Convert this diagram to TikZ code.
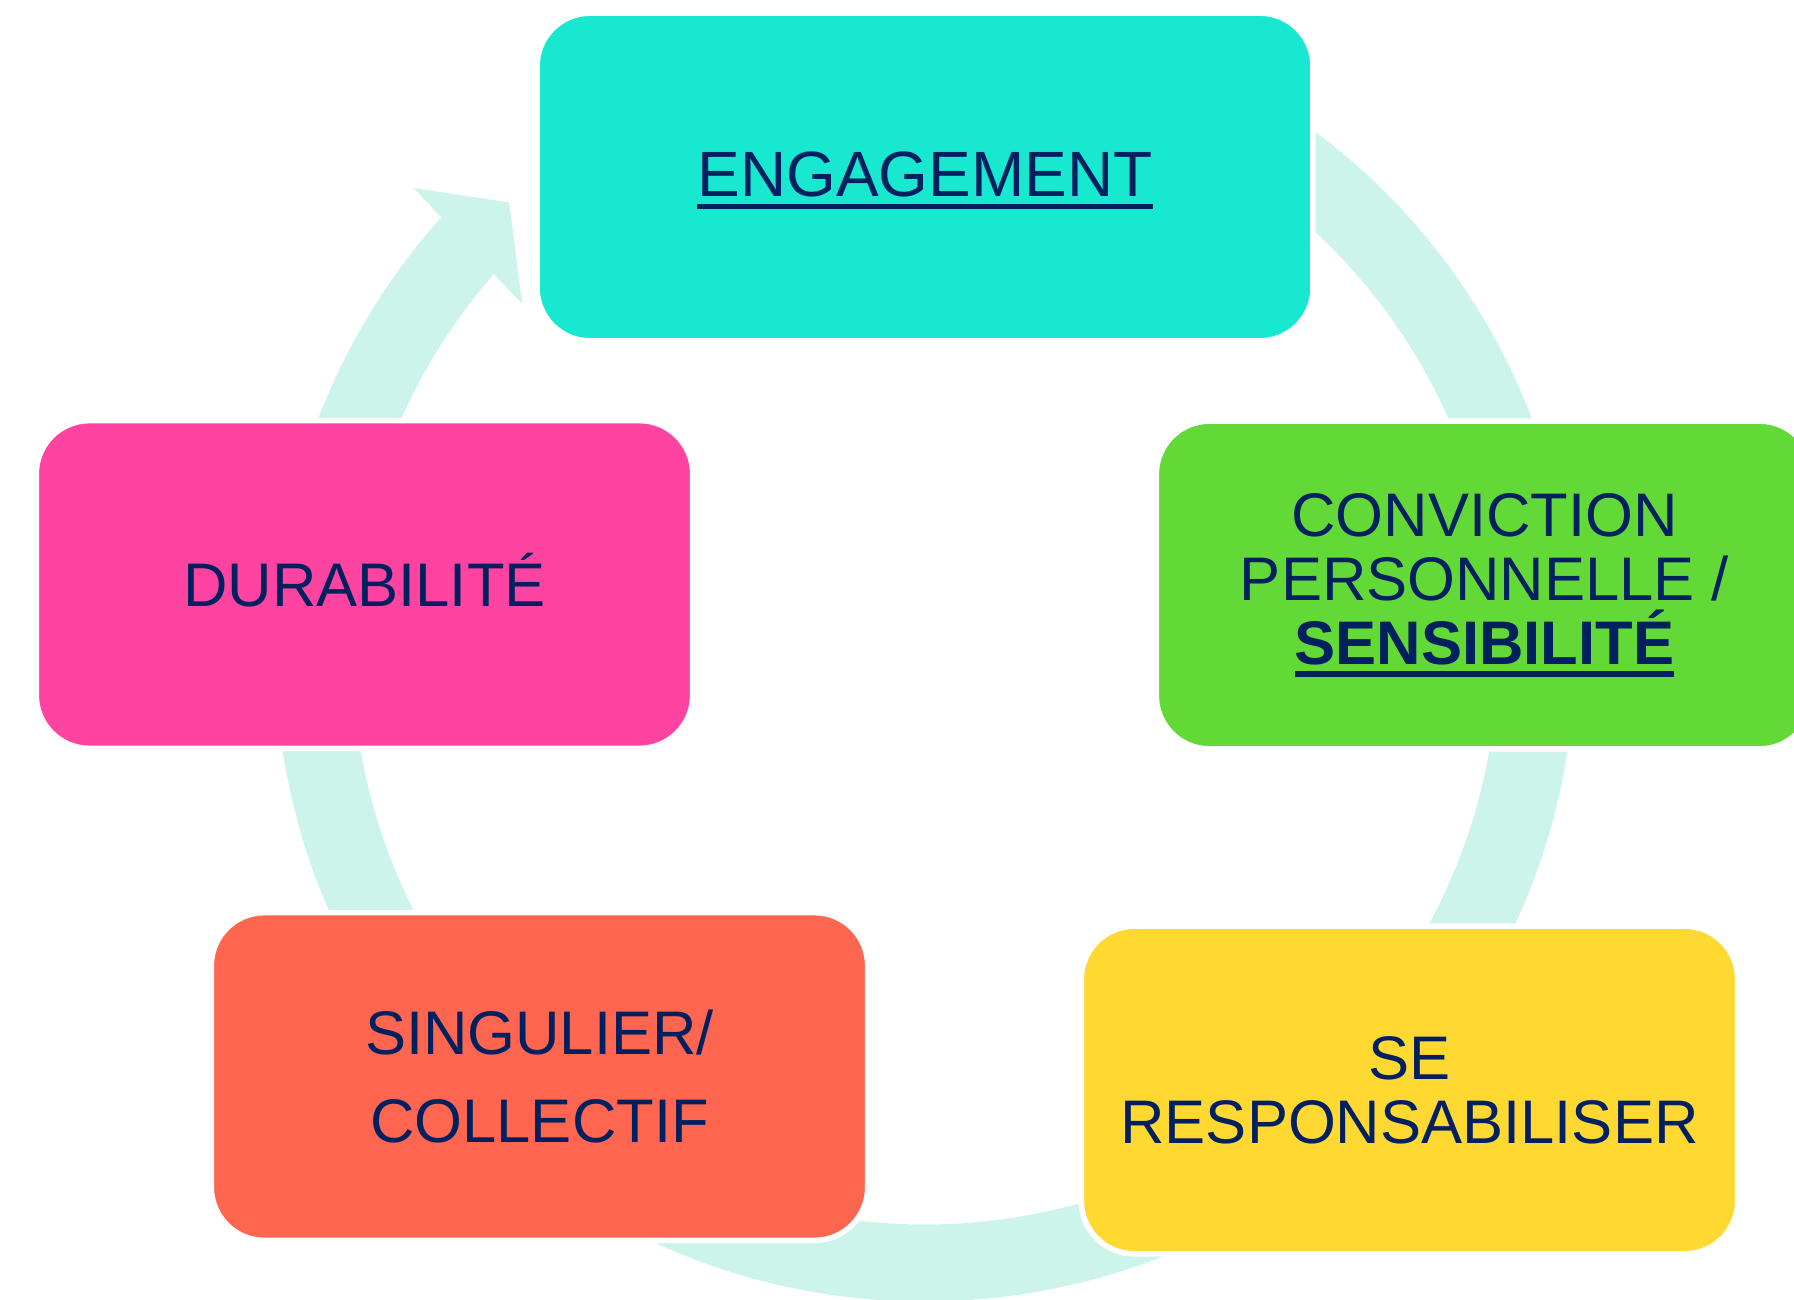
\documentclass[tikz,border=0pt]{standalone}
\usepackage{fontspec}
\setmainfont{Liberation Sans}
\usepackage{tikz}
\usetikzlibrary{calc}

\definecolor{ringmint}{HTML}{CCF4EB}
\definecolor{engteal}{HTML}{18E8D0}
\definecolor{convgreen}{HTML}{62D937}
\definecolor{respyellow}{HTML}{FFD832}
\definecolor{singred}{HTML}{FF6650}
\definecolor{durpink}{HTML}{FF43A0}
\definecolor{navy}{HTML}{002060}

\newcommand{\ulword}[1]{\setbox0\hbox{#1}\rlap{\vrule width\wd0 height -2pt depth 3.5pt}\box0}

\begin{document}
\begin{tikzpicture}[x=0.01cm,y=0.01cm,
  stage/.style={rectangle, rounded corners=0.53cm, draw=white, line width=0.055cm,
    minimum width=6.56cm, minimum height=3.275cm, inner sep=0pt, align=center,
    text=navy, font=\fontsize{17.5}{18.2}\selectfont}]

\path[use as bounding box] (0,0) rectangle (1794,1299);
\clip (0,0) rectangle (1794,1299);

\coordinate (hub) at (925,647.5);

\fill[ringmint] ($(hub)+(57:650)$) arc[start angle=57, end angle=-221.9, radius=650]
  -- ($(hub)+(137.8:690)$) -- ($(hub)+(132.8:612)$) -- ($(hub)+(139.2:532)$)
  -- ($(hub)+(-221.2:573)$) arc[start angle=-221.2, end angle=57, radius=573] -- cycle;

\node[stage, fill=engteal, minimum width=7.755cm, font=\fontsize{18.2}{18.2}\selectfont,
  text height=0.45cm, text depth=0.06cm] (engagement) at (925,1122) {\ulword{ENGAGEMENT}};
\node[stage, fill=convgreen] (conviction) at (1484.5,714)
  {CONVICTION\\PERSONNELLE /\\\ulword{\textbf{SENSIBILITÉ}}};
\node[stage, fill=respyellow] (responsabiliser) at (1409.5,209) {SE\\RESPONSABILISER};
\node[stage, fill=singred] (singulier) at (539.5,222.5) {SINGULIER/\\[0.24cm]COLLECTIF};
\node[stage, fill=durpink, text height=0.43cm, text depth=0pt] (durabilite) at (364.5,714.5) {DURABILITÉ};

\end{tikzpicture}
\end{document}
